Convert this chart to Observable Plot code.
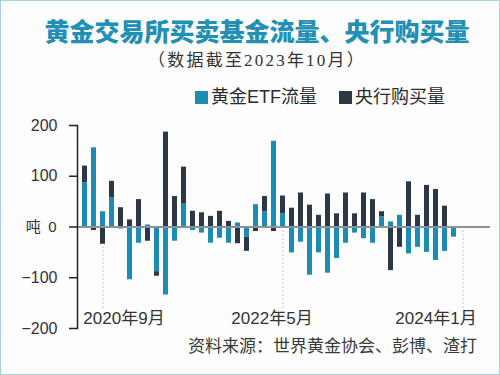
<!DOCTYPE html>
<html><head><meta charset="utf-8">
<script src="https://cdn.jsdelivr.net/npm/d3@7"></script>
<script src="https://cdn.jsdelivr.net/npm/@observablehq/plot@0.6"></script>
<style>
html,body{margin:0;padding:0;background:#fff;}
#wrap{position:relative;width:500px;height:375px;overflow:hidden;background:#fdfdfd;font-family:"Liberation Sans","Noto Sans CJK SC",sans-serif;}
#title{position:absolute;top:16px;left:7px;width:500px;text-align:center;font-family:"Noto Sans CJK SC",sans-serif;font-weight:900;font-size:25px;line-height:28px;color:#2290b5;white-space:nowrap;}
#subtitle{position:absolute;top:51px;left:7px;width:500px;text-align:center;font-family:"Liberation Serif","Noto Sans CJK SC",serif;font-size:17px;letter-spacing:2.2px;line-height:20px;color:#333;white-space:nowrap;}
#legend{position:absolute;top:86px;left:195px;font-size:18px;line-height:22px;color:#2b2b2b;white-space:nowrap;}
#legend .item{position:absolute;top:0;display:flex;align-items:center;}
#legend .sw{width:13px;height:13px;margin-right:3px;display:inline-block;}
#chart{position:absolute;top:112px;left:0;}
#source{position:absolute;top:337px;right:23px;font-size:17px;line-height:20px;color:#3a3a3a;font-family:"Liberation Serif","Noto Sans CJK SC",serif;white-space:nowrap;}
#border{position:absolute;left:0;top:0;width:500px;height:375px;box-sizing:border-box;border:1.5px solid #a8d2df;pointer-events:none;}
</style></head>
<body>
<div id="wrap">
  <div id="title"></div>
  <div id="subtitle"></div>
  <div id="legend"></div>
  <div id="chart"></div>
  <div id="source"></div>
  <div id="border"></div>
</div>
<script>
const titleText = "黄金交易所买卖基金流量、央行购买量";
const subtitleText = "（数据截至2023年10月）";
const sourceText = "资料来源：世界黄金协会、彭博、渣打";
const yUnit = "吨";

const seriesNames = ["黄金ETF流量", "央行购买量"];
const seriesColors = ["#1b8db3", "#2c3846"];

const months = [
  "2020-07","2020-08","2020-09","2020-10","2020-11","2020-12",
  "2021-01","2021-02","2021-03","2021-04","2021-05","2021-06",
  "2021-07","2021-08","2021-09","2021-10","2021-11","2021-12",
  "2022-01","2022-02","2022-03","2022-04","2022-05","2022-06",
  "2022-07","2022-08","2022-09","2022-10","2022-11","2022-12",
  "2023-01","2023-02","2023-03","2023-04","2023-05","2023-06",
  "2023-07","2023-08","2023-09","2023-10","2023-11","2023-12",
  "2024-01"
];

const etfFlows = [
  87, 156, 30, 57, -4, -104,
  -32, 4, -88, -134, -28, 45,
  -7, -12, -32, -22, -32, 8,
  -20, 44, 30, 169, 26, -51,
  -30, -95, -51, -91, -62, -32,
  -12, -23, -32, 20, 10, 23,
  -53, -40, -50, -66, -48, -20
];

const cbPurchases = [
  33, -7, -34, 33, 38, 14,
  54, -28, -9, 187, 60, 73,
  31, 28, 21, 31, 11, -33,
  -28, -9, 30, -9, 35, 37,
  67, 43, 23, 65, 26, 67,
  26, 67, 54, 10, -86, -40,
  89, 23, 82, 74, 41, null
];

const yTicks = [-200, -100, 0, 100, 200];
const yTickLabels = ["−200", "−100", "0", "100", "200"];
const tickMonths = ["2020-09", "2022-05", "2024-01"];
const tickLabels = ["2020年9月", "2022年5月", "2024年1月"];

// build long table for stacking (ETF first, then central banks)
const rows = [];
etfFlows.forEach((v, i) => {
  if (v != null) rows.push({month: months[i], series: seriesNames[0], value: v});
  const c = cbPurchases[i];
  if (c != null) rows.push({month: months[i], series: seriesNames[1], value: c});
});
const xTicks = tickMonths.map((m, i) => ({month: m, label: tickLabels[i]}));
const yLabelRows = yTicks.map((v, i) => ({value: v, label: yTickLabels[i]}));

document.getElementById("title").textContent = titleText;
document.getElementById("subtitle").textContent = subtitleText;
document.getElementById("source").textContent = sourceText;

const legend = document.getElementById("legend");
const legendOffsets = [0, 144];
seriesNames.forEach((name, i) => {
  const it = document.createElement("div");
  it.className = "item";
  it.style.left = legendOffsets[i] + "px";
  const sw = document.createElement("span");
  sw.className = "sw";
  sw.style.background = seriesColors[i];
  const tx = document.createElement("span");
  tx.textContent = name;
  it.appendChild(sw); it.appendChild(tx);
  legend.appendChild(it);
});

const textFont = "Liberation Sans, Noto Sans CJK SC, sans-serif";

const chart = Plot.plot({
  width: 500,
  height: 228,
  marginTop: 13,
  marginBottom: 12,
  marginLeft: 77,
  marginRight: 10,
  style: {background: "transparent", fontFamily: textFont, color: "#333"},
  x: {type: "band", domain: months, paddingInner: 0.47, paddingOuter: 0.49, align: 0.17, axis: null},
  y: {domain: [-200, 200], axis: null},
  color: {domain: seriesNames, range: seriesColors},
  marks: [
    Plot.ruleX(tickMonths, {x: d => d, y1: 0, y2: -165, stroke: "#b5b5b5", strokeDasharray: "1.5,2.5", strokeWidth: 1}),
    Plot.barY(rows, {x: "month", y: "value", fill: "series"}),
    Plot.ruleY([0], {stroke: "#8a9297", strokeWidth: 2}),
    Plot.frame({anchor: "left", stroke: "#222", strokeWidth: 1.5}),
    Plot.axisY({ticks: yTicks, label: null, tickSize: 8, tickFormat: () => "", stroke: "#222", strokeWidth: 1.5}),
    Plot.text(yLabelRows.filter(d => d.value !== 0), {y: "value", text: "label", frameAnchor: "left", dx: -20, textAnchor: "end", fontSize: 16, fill: "#333"}),
    Plot.text(yLabelRows.filter(d => d.value === 0), {y: "value", text: d => yUnit + "\u2002" + d.label, frameAnchor: "left", dx: -21, textAnchor: "end", fontSize: 15, fill: "#333"}),
    Plot.text(xTicks.filter(d => d.month === tickMonths[0]), {x: "month", text: "label", y: -200, dy: -10, dx: 21, fontSize: 17, fill: "#333", lineAnchor: "middle"}),
    Plot.text(xTicks.filter(d => d.month === tickMonths[1]), {x: "month", text: "label", y: -200, dy: -10, dx: -11, fontSize: 17, fill: "#333", lineAnchor: "middle"}),
    Plot.text(xTicks.filter(d => d.month === tickMonths[2]), {x: "month", text: "label", y: -200, dy: -10, dx: -27, fontSize: 17, fill: "#333", lineAnchor: "middle"})
  ]
});
document.getElementById("chart").appendChild(chart);
</script>
</body></html>
